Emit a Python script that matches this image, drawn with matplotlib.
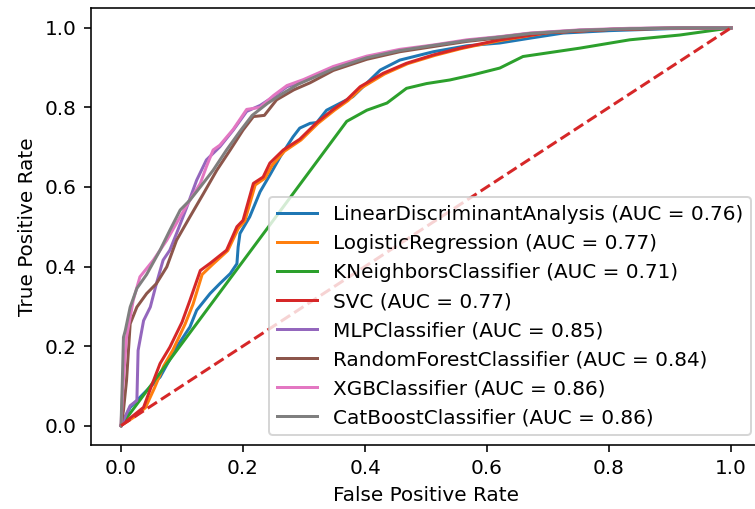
import matplotlib
matplotlib.use("Agg")
import matplotlib.pyplot as plt

# ROC-кривые классификаторов: (FPR, TPR) для каждой модели
models = ["LinearDiscriminantAnalysis", "LogisticRegression", "KNeighborsClassifier",
          "SVC", "MLPClassifier", "RandomForestClassifier", "XGBClassifier",
          "CatBoostClassifier"]
auc = [0.76, 0.77, 0.71, 0.77, 0.85, 0.84, 0.86, 0.86]

lda_fpr = [0, 0.015, 0.040, 0.064, 0.091, 0.113, 0.124, 0.146, 0.162, 0.179, 0.190, 0.192,
           0.195, 0.211, 0.228, 0.244, 0.261, 0.282, 0.293, 0.310, 0.321, 0.337, 0.380,
           0.425, 0.457, 0.512, 0.567, 0.621, 0.670, 0.725, 0.80, 0.90, 1.0]
lda_tpr = [0, 0.046, 0.085, 0.122, 0.197, 0.248, 0.290, 0.332, 0.357, 0.382, 0.407, 0.449,
           0.483, 0.525, 0.588, 0.630, 0.676, 0.726, 0.748, 0.760, 0.762, 0.793, 0.827,
           0.894, 0.919, 0.940, 0.955, 0.962, 0.974, 0.987, 0.993, 0.998, 1.0]

lr_fpr = [0, 0.022, 0.040, 0.055, 0.070, 0.085, 0.105, 0.118, 0.133, 0.150, 0.175, 0.192,
          0.203, 0.220, 0.236, 0.248, 0.268, 0.295, 0.323, 0.350, 0.372, 0.395, 0.432,
          0.470, 0.515, 0.558, 0.595, 0.625, 0.70, 0.80, 0.90, 1.0]
lr_tpr = [0, 0.022, 0.045, 0.095, 0.150, 0.190, 0.255, 0.305, 0.380, 0.405, 0.440, 0.495,
          0.515, 0.605, 0.622, 0.655, 0.690, 0.718, 0.760, 0.793, 0.817, 0.850, 0.884,
          0.910, 0.931, 0.948, 0.960, 0.969, 0.988, 0.996, 0.999, 1.0]

knn_fpr = [0, 0.370, 0.403, 0.436, 0.468, 0.501, 0.539, 0.577, 0.621, 0.659, 0.752,
           0.834, 0.916, 1.0]
knn_tpr = [0, 0.765, 0.793, 0.811, 0.848, 0.860, 0.869, 0.882, 0.899, 0.928, 0.949,
           0.970, 0.982, 1.0]

svc_fpr = [0, 0.020, 0.037, 0.050, 0.064, 0.080, 0.100, 0.113, 0.130, 0.146, 0.173, 0.190,
           0.200, 0.217, 0.233, 0.244, 0.266, 0.293, 0.321, 0.348, 0.370, 0.392, 0.430,
           0.468, 0.512, 0.556, 0.593, 0.621, 0.70, 0.80, 0.90, 1.0]
svc_tpr = [0, 0.025, 0.046, 0.100, 0.156, 0.197, 0.260, 0.315, 0.390, 0.408, 0.441, 0.500,
           0.516, 0.609, 0.625, 0.660, 0.693, 0.720, 0.762, 0.795, 0.819, 0.852, 0.886,
           0.911, 0.932, 0.949, 0.961, 0.970, 0.988, 0.996, 0.999, 1.0]

mlp_fpr = [0, 0.015, 0.026, 0.028, 0.037, 0.048, 0.058, 0.069, 0.080, 0.091, 0.108, 0.124,
           0.140, 0.162, 0.184, 0.206, 0.228, 0.250, 0.272, 0.299, 0.348, 0.403, 0.457,
           0.512, 0.567, 0.621, 0.670, 0.752, 0.834, 0.92, 1.0]
mlp_tpr = [0, 0.050, 0.063, 0.189, 0.264, 0.298, 0.357, 0.416, 0.441, 0.483, 0.550, 0.617,
           0.668, 0.701, 0.743, 0.790, 0.805, 0.827, 0.852, 0.866, 0.900, 0.926, 0.943,
           0.955, 0.968, 0.977, 0.986, 0.994, 0.998, 1.0, 1.0]

rf_fpr = [0, 0.004, 0.009, 0.015, 0.026, 0.042, 0.058, 0.075, 0.091, 0.113, 0.135, 0.157,
          0.179, 0.200, 0.217, 0.235, 0.255, 0.283, 0.310, 0.348, 0.403, 0.457, 0.512,
          0.567, 0.621, 0.670, 0.752, 0.834, 0.92, 1.0]
rf_tpr = [0, 0.038, 0.113, 0.256, 0.298, 0.332, 0.357, 0.399, 0.466, 0.525, 0.583, 0.642,
          0.693, 0.743, 0.777, 0.780, 0.819, 0.844, 0.862, 0.893, 0.921, 0.940, 0.953,
          0.966, 0.975, 0.985, 0.993, 0.998, 1.0, 1.0]

xgb_fpr = [0, 0.003, 0.009, 0.020, 0.031, 0.053, 0.075, 0.097, 0.113, 0.130, 0.140, 0.151,
           0.162, 0.184, 0.206, 0.228, 0.250, 0.272, 0.299, 0.348, 0.403, 0.457, 0.512,
           0.567, 0.621, 0.670, 0.752, 0.834, 0.92, 1.0]
xgb_tpr = [0, 0.096, 0.222, 0.315, 0.374, 0.416, 0.466, 0.525, 0.567, 0.609, 0.651, 0.693,
           0.705, 0.745, 0.795, 0.800, 0.830, 0.855, 0.870, 0.903, 0.929, 0.946, 0.957,
           0.970, 0.978, 0.987, 0.995, 0.999, 1.0, 1.0]

cb_fpr = [0, 0.002, 0.004, 0.007, 0.015, 0.026, 0.042, 0.064, 0.080, 0.097, 0.113, 0.130,
          0.151, 0.173, 0.195, 0.215, 0.240, 0.265, 0.290, 0.348, 0.403, 0.457, 0.512,
          0.567, 0.621, 0.670, 0.752, 0.834, 0.92, 1.0]
cb_tpr = [0, 0.105, 0.222, 0.239, 0.298, 0.345, 0.380, 0.441, 0.491, 0.542, 0.567, 0.600,
          0.642, 0.693, 0.740, 0.780, 0.810, 0.835, 0.858, 0.897, 0.925, 0.943, 0.956,
          0.968, 0.977, 0.986, 0.994, 0.998, 1.0, 1.0]

curves = [(lda_fpr, lda_tpr), (lr_fpr, lr_tpr), (knn_fpr, knn_tpr), (svc_fpr, svc_tpr),
          (mlp_fpr, mlp_tpr), (rf_fpr, rf_tpr), (xgb_fpr, xgb_tpr), (cb_fpr, cb_tpr)]

fig = plt.figure(figsize=(755 / 144, 509 / 144), dpi=144)
ax = fig.add_axes([0.1199, 0.1248, 0.8887, 0.8595])

for name, score, (fpr, tpr) in zip(models, auc, curves):
    ax.plot(fpr, tpr, label=f"{name} (AUC = {score:.2f})")

# линия случайного классификатора
ax.plot([0, 1], [0, 1], "--", color="#d62728")

ax.set_xlim(-0.05, 1.05)
ax.set_ylim(-0.05, 1.05)
ax.set_xlabel("False Positive Rate")
ax.set_ylabel("True Positive Rate")
ax.legend(loc="lower right")

fig.savefig("out.png", dpi=144)
